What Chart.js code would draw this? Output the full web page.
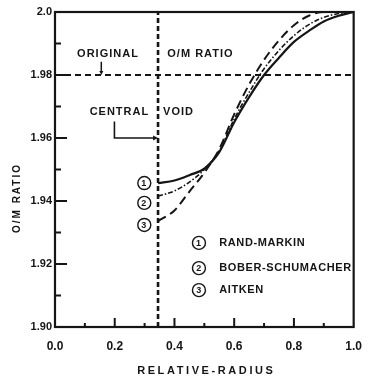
<!DOCTYPE html>
<html>
<head>
<meta charset="utf-8">
<script src="https://cdn.jsdelivr.net/npm/chart.js@4.4.1/dist/chart.umd.min.js"></script>
<style>
  html, body { margin: 0; padding: 0; background: #fff; }
  #wrap { width: 374px; height: 377px; }
</style>
</head>
<body>
<div id="wrap"><canvas id="chart" width="374" height="377"></canvas></div>
<script>
// values
const radius = [0.345, 0.40, 0.45, 0.50, 0.55, 0.60, 0.65, 0.70, 0.75, 0.80, 0.85, 0.90, 0.95, 1.00];
const randMarkin      = [1.9457, 1.9465, 1.9482, 1.9503, 1.9555, 1.9650, 1.9730, 1.9800, 1.9855, 1.9905, 1.9940, 1.9970, 1.9988, 2.0000];
const boberSchumacher = [1.9415, 1.9432, 1.9460, 1.9500, 1.9560, 1.9660, 1.9745, 1.9820, 1.9878, 1.9925, 1.9960, 1.9983, 1.9995, 2.0000];
const aitken          = [1.9336, 1.9370, 1.9430, 1.9490, 1.9565, 1.9675, 1.9770, 1.9848, 1.9910, 1.9958, 1.9988, 2.0000, 2.0000, 2.0000];
const seriesNames = ['RAND-MARKIN', 'BOBER-SCHUMACHER', 'AITKEN'];
const voidRadius = 0.345;
const originalRatio = 1.98;
const yTicks = ['1.90', '1.92', '1.94', '1.96', '1.98', '2.0'];
const xTicks = ['0.0', '0.2', '0.4', '0.6', '0.8', '1.0'];

const INK = '#151515';
const FONT = '"Liberation Sans", Arial, sans-serif';

const toPts = (xs, ys) => xs.map((x, i) => ({ x: x, y: ys[i] }));

function arrowHead(ctx, x, y, dir, size) {
  ctx.beginPath();
  if (dir === 'right') {
    ctx.moveTo(x, y);
    ctx.lineTo(x - size, y - size * 0.5);
    ctx.lineTo(x - size, y + size * 0.5);
  } else {
    ctx.moveTo(x, y);
    ctx.lineTo(x - size * 0.5, y - size);
    ctx.lineTo(x + size * 0.5, y - size);
  }
  ctx.closePath();
  ctx.fill();
}

function circledNum(ctx, cx, cy, n) {
  ctx.save();
  ctx.setLineDash([]);
  ctx.lineWidth = 1.4;
  ctx.strokeStyle = INK;
  ctx.beginPath();
  ctx.arc(cx, cy, 6.5, 0, Math.PI * 2);
  ctx.stroke();
  ctx.fillStyle = INK;
  ctx.font = 'bold 9px ' + FONT;
  ctx.textAlign = 'center';
  ctx.textBaseline = 'middle';
  ctx.fillText(String(n), cx, cy + 0.5);
  ctx.restore();
}

const inkPlugin = {
  id: 'ink',
  afterDatasetsDraw(chart) {
    const { ctx, chartArea: a, scales: { x, y } } = chart;
    ctx.save();
    ctx.setLineDash([]);
    ctx.strokeStyle = INK;
    ctx.fillStyle = INK;

    // frame
    ctx.lineWidth = 2.2;
    ctx.strokeRect(a.left, a.top, a.right - a.left, a.bottom - a.top);

    // inward ticks, every 0.01 on y and every 0.1 on x
    ctx.lineWidth = 2;
    for (let k = 1; k < 10; k++) {
      const py = y.getPixelForValue(1.90 + k * 0.01);
      const len = k % 2 === 0 ? 12 : 6;
      ctx.beginPath();
      ctx.moveTo(a.left, py);
      ctx.lineTo(a.left + len, py);
      ctx.stroke();
    }
    for (let k = 1; k < 10; k++) {
      const px = x.getPixelForValue(k * 0.1);
      const len = k % 2 === 0 ? 9 : 4;
      ctx.beginPath();
      ctx.moveTo(px, a.bottom);
      ctx.lineTo(px, a.bottom - len);
      ctx.stroke();
    }

    // annotation text
    ctx.font = 'bold 11px ' + FONT;
    ctx.letterSpacing = '1px';
    ctx.textBaseline = 'middle';
    ctx.textAlign = 'left';
    ctx.fillText('ORIGINAL', x.getPixelForValue(0.074), y.getPixelForValue(1.9867));
    ctx.fillText('O/M RATIO', x.getPixelForValue(0.376), y.getPixelForValue(1.9867));
    ctx.fillText('CENTRAL', x.getPixelForValue(0.116), y.getPixelForValue(1.9683));
    ctx.fillText('VOID', x.getPixelForValue(0.362), y.getPixelForValue(1.9683));

    // leader from ORIGINAL down to the 1.98 line
    ctx.lineWidth = 1.5;
    const lx = x.getPixelForValue(0.155);
    ctx.beginPath();
    ctx.moveTo(lx, y.getPixelForValue(1.9842));
    ctx.lineTo(lx, y.getPixelForValue(originalRatio) - 3);
    ctx.stroke();
    arrowHead(ctx, lx, y.getPixelForValue(originalRatio), 'down', 4);

    // bracket from CENTRAL to the void boundary
    const bx = x.getPixelForValue(0.199);
    const by = y.getPixelForValue(1.960);
    ctx.lineWidth = 1.6;
    ctx.beginPath();
    ctx.moveTo(bx, y.getPixelForValue(1.9652));
    ctx.lineTo(bx, by);
    ctx.lineTo(x.getPixelForValue(voidRadius) - 4, by);
    ctx.stroke();
    arrowHead(ctx, x.getPixelForValue(voidRadius), by, 'right', 5);

    // curve markers at the void edge
    const cx = x.getPixelForValue(0.299);
    circledNum(ctx, cx, y.getPixelForValue(1.9457), 1);
    circledNum(ctx, cx, y.getPixelForValue(1.9394), 2);
    circledNum(ctx, cx, y.getPixelForValue(1.9324), 3);

    // key
    const kx = x.getPixelForValue(0.482);
    const tx = x.getPixelForValue(0.55);
    const ky = [1.9267, 1.9187, 1.9117];
    seriesNames.forEach((name, i) => {
      const py = y.getPixelForValue(ky[i]);
      circledNum(ctx, kx, py, i + 1);
      ctx.fillStyle = INK;
      ctx.font = 'bold 11px ' + FONT;
      ctx.letterSpacing = '0.6px';
      ctx.textAlign = 'left';
      ctx.textBaseline = 'middle';
      ctx.fillText(name, tx, py);
    });

    // axis titles
    ctx.fillStyle = INK;
    ctx.font = 'bold 11px ' + FONT;
    ctx.letterSpacing = '2.6px';
    ctx.textAlign = 'center';
    ctx.textBaseline = 'middle';
    ctx.fillText('RELATIVE-RADIUS', (a.left + a.right) / 2 + 2, 371);
    ctx.save();
    ctx.translate(17, 198);
    ctx.rotate(-Math.PI / 2);
    ctx.font = 'bold 10px ' + FONT;
    ctx.letterSpacing = '2px';
    ctx.fillText('O/M RATIO', 0, 0);
    ctx.restore();
    ctx.letterSpacing = '0px';

    ctx.restore();
  }
};

new Chart(document.getElementById('chart'), {
  type: 'line',
  data: {
    datasets: [
      {
        label: seriesNames[0],
        data: toPts(radius, randMarkin),
        borderColor: INK, borderWidth: 2.2,
        pointRadius: 0, cubicInterpolationMode: 'monotone'
      },
      {
        label: seriesNames[1],
        data: toPts(radius, boberSchumacher),
        borderColor: INK, borderWidth: 1.6, borderDash: [5, 2, 1.5, 2],
        pointRadius: 0, cubicInterpolationMode: 'monotone'
      },
      {
        label: seriesNames[2],
        data: toPts(radius, aitken),
        borderColor: INK, borderWidth: 2, borderDash: [9, 5],
        pointRadius: 0, cubicInterpolationMode: 'monotone'
      },
      {
        label: 'void',
        data: [{ x: voidRadius, y: 1.90 }, { x: voidRadius, y: 2.0 }],
        borderColor: INK, borderWidth: 2.6, borderDash: [5, 3],
        pointRadius: 0
      },
      {
        label: 'original',
        data: [{ x: 0, y: originalRatio }, { x: 1, y: originalRatio }],
        borderColor: INK, borderWidth: 2.2, borderDash: [6, 4],
        pointRadius: 0
      }
    ]
  },
  options: {
    responsive: false,
    animation: false,
    devicePixelRatio: 1,
    layout: { padding: { top: 12, right: 8, left: 0, bottom: 0 } },
    plugins: { legend: { display: false }, tooltip: { enabled: false } },
    scales: {
      x: {
        type: 'linear', min: 0, max: 1,
        grid: { display: false, drawTicks: false },
        border: { display: false },
        afterFit: s => { s.height = 50; },
        ticks: {
          stepSize: 0.1, autoSkip: false, maxRotation: 0, padding: 12,
          color: INK, font: { family: FONT, size: 12, weight: 'bold' },
          callback: v => {
            const k = Math.round(v * 10);
            return k % 2 === 0 ? xTicks[k / 2] : '';
          }
        }
      },
      y: {
        type: 'linear', min: 1.90, max: 2.0,
        grid: { display: false, drawTicks: false },
        border: { display: false },
        afterFit: s => { s.width = 55; },
        ticks: {
          stepSize: 0.01, autoSkip: false, padding: 3,
          color: INK, font: { family: FONT, size: 11, weight: 'bold' },
          callback: v => {
            const k = Math.round(v * 100) - 190;
            return k % 2 === 0 ? yTicks[k / 2] : '';
          }
        }
      }
    }
  },
  plugins: [inkPlugin]
});
</script>
</body>
</html>
